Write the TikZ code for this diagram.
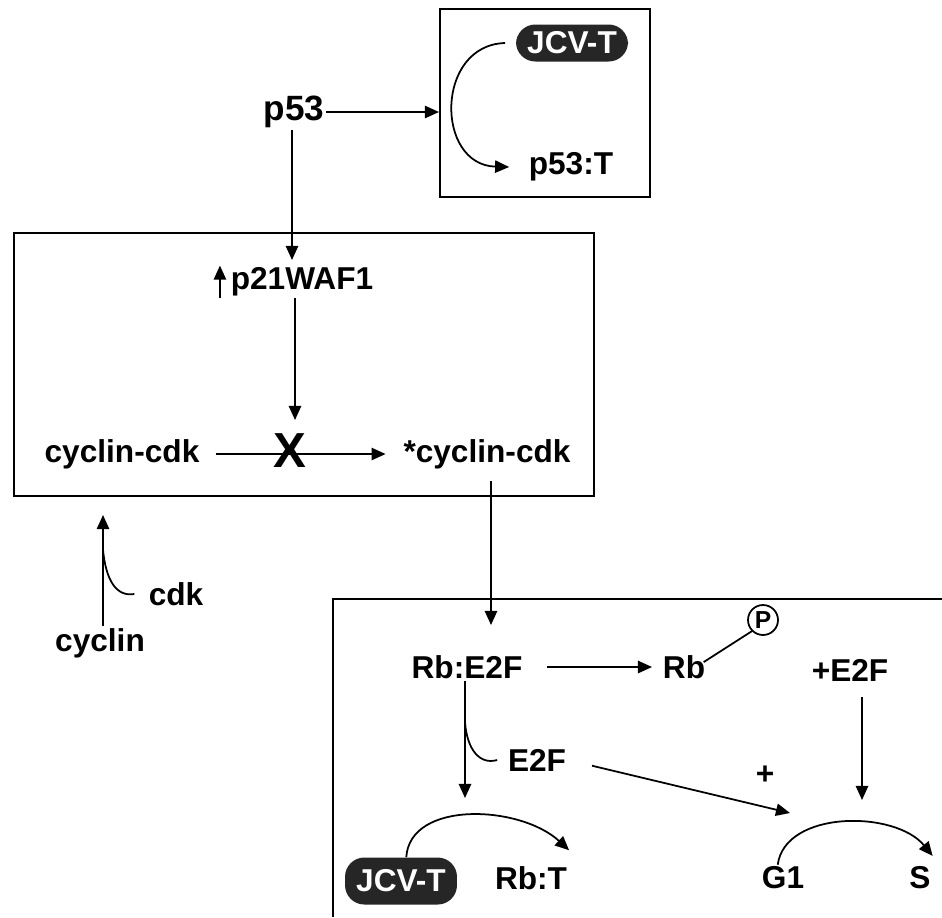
\documentclass[tikz,border=0pt]{standalone}
\usepackage{fontspec}
\setmainfont{Liberation Sans}
\usetikzlibrary{arrows.meta}

\begin{document}
\begin{tikzpicture}
                [x=0.02cm,y=-0.02cm,
                lbl/.style={inner sep=1pt, font=\fontsize{18}{21}\selectfont\bfseries},
                pill/.style={lbl, rounded corners=11pt, fill=black!85, text=white, minimum width=2.24cm},
                box/.style={rectangle, draw=black, line width=1.2pt},
                arrow/.style={-{Triangle[length=8pt,width=7pt]}, line width=1pt},
                branchline/.style={line width=1pt},
                ]
                \useasboundingbox[fill=white] (0,0) rectangle (942,917);
                % boxes
                \node[box, minimum width=4.2cm, minimum height=3.76cm] (topbox) at (545,103) {};
                \node[box, minimum width=11.6cm, minimum height=5.26cm] (midbox) at (304,364.5) {};
                \draw[line width=1.2pt] (333,917) -- (333,599) -- (942,599);
                % top part
                \node[lbl, font=\fontsize{20}{23}\selectfont\bfseries] (p53) at (294,112) {p53};
                \node[pill, minimum height=0.74cm] (jcvtop) at (572,43) {JCV-T};
                \node[lbl] (p53t) at (571,167) {p53:T};
                \node[lbl] (p21) at (302,282) {p21WAF1};
                \node[lbl] (cc) at (122,454) {cyclin-cdk};
                \node[lbl, font=\fontsize{28}{30}\selectfont\bfseries] (blk) at (290,451) {X};
                \node[lbl] (ccs) at (487,454) {*cyclin-cdk};
                \node[lbl] (cdk) at (176,594) {cdk};
                \node[lbl] (cyc) at (100,643) {cyclin};
                % lower box
                \node[lbl] (rbe) at (467,667) {Rb:E2F};
                \node[lbl] (rb) at (684,667) {Rb};
                \node[circle, draw, line width=1pt, minimum size=0.6cm, inner sep=0pt,
                      font=\fontsize{14}{16}\selectfont\bfseries] (phos) at (763,620) {P};
                \node[lbl] (pe2f) at (850,670) {+E2F};
                \node[lbl] (e2f) at (537,760) {E2F};
                \node[lbl] (plus) at (765,775) {+};
                \node[pill, minimum height=0.94cm] (jcvlow) at (401,881) {JCV-T};
                \node[lbl] (rbt) at (531,878) {Rb:T};
                \node[lbl] (g1) at (783,878) {G1};
                \node[lbl] (s) at (920,878) {S};
                % free arrow ends and branch points
                \coordinate (p21in) at (292,260);
                \coordinate (blkin) at (295,420);
                \coordinate (ccup) at (103,515);
                \coordinate (cdkjoin) at (103,550);
                \coordinate (rbein) at (491,625);
                \coordinate (splitin) at (465,798);
                \coordinate (e2fjoin) at (465,722);
                \coordinate (g1tip) at (790,813);
                \coordinate (cyclein) at (862,800);
                % connectors
                \draw[arrow] (p53.east) -- (p53.east -| topbox.west);
                \draw[arrow] ([xshift=-6pt]jcvtop.west) .. controls (435,45) and (435,165) .. ([xshift=-10pt]p53t.west);
                \draw[arrow] (p53.south -| p21in) -- (p21in);
                \draw[arrow] ([xshift=-5pt]p21.south west) -- ([xshift=-5pt]p21.north west);
                \draw[arrow] (p21.south -| blkin) -- (blkin);
                \draw[arrow, shorten <=8pt, shorten >=9pt] (cc.east) -- (ccs.west);
                \draw[arrow] ([yshift=-6pt]ccs.south -| rbein) -- (rbein);
                \draw[arrow] (cyc.north -| ccup) -- (ccup);
                \draw[branchline] (cdkjoin) .. controls (106,580) and (116,597) .. ([xshift=-7pt]cdk.west);
                \draw[arrow, shorten <=13pt, shorten >=5pt] (rbe.east) -- (rb.west);
                \draw[line width=1pt] ([xshift=-2pt,yshift=-5pt]rb.north east) -- (phos.south west);
                \draw[arrow] (rbe.south -| splitin) -- (splitin);
                \draw[branchline] (e2fjoin) .. controls (467,750) and (480,765) .. ([xshift=-5pt]e2f.west);
                \draw[arrow, shorten <=14pt] (e2f.east) -- (g1tip);
                \draw[arrow] ([yshift=-8pt]pe2f.south -| cyclein) -- (cyclein);
                \draw[arrow] ([xshift=3pt]jcvlow.north) .. controls (410,800) and (520,805) .. ([yshift=8pt]rbt.north east);
                \draw[arrow] ([xshift=-3pt]g1.north) .. controls (785,810) and (895,810) .. ([yshift=5pt]s.north east);
            \end{tikzpicture}
\end{document}
